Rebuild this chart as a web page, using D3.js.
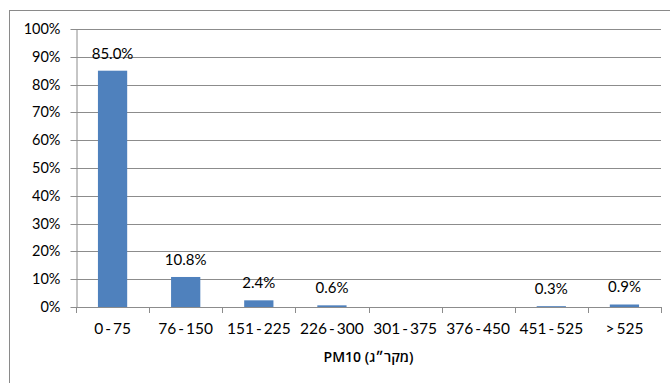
<!DOCTYPE html>
<html>
<head>
<meta charset="utf-8">
<script src="https://cdn.jsdelivr.net/npm/d3@7"></script>
<style>
  body { margin: 0; background: #fff; }
  svg { display: block; }
</style>
</head>
<body>
<div id="chart"></div>
<script>
  // PM10 concentration classes and share of measurements
  const categories = ['0 - 75', '76 - 150', '151 - 225', '226 - 300', '301 - 375', '376 - 450', '451 - 525', '> 525'];
  const values = [85.0, 10.8, 2.4, 0.6, null, null, 0.3, 0.9];
  const yTicks = [0, 10, 20, 30, 40, 50, 60, 70, 80, 90, 100];
  const axisTitle = 'PM10 (מקר״ג)';

  const width = 670, height = 383;
  const margin = {top: 29, right: 9, bottom: 76, left: 76};
  const barColor = '#4f81bd';
  const gridColor = '#8c8c8c';
  const font = 'Lato, "Open Sans", sans-serif';

  const svg = d3.select('#chart').append('svg')
      .attr('width', width)
      .attr('height', height);

  // outer chart frame (runs past the right and bottom edges)
  svg.append('rect')
      .attr('x', 9.5).attr('y', 10.5)
      .attr('width', width + 20).attr('height', height + 20)
      .attr('fill', 'none')
      .attr('stroke', '#8a8a8a');

  const x = d3.scaleBand()
      .domain(categories)
      .range([margin.left, width - margin.right])
      .paddingInner(0.6)
      .paddingOuter(0.3);

  const y = d3.scaleLinear()
      .domain([0, 100])
      .range([height - margin.bottom, margin.top]);

  // horizontal grid
  svg.append('g')
      .selectAll('line')
      .data(yTicks.filter(d => d > 0))
      .join('line')
        .attr('x1', margin.left)
        .attr('x2', width - margin.right)
        .attr('y1', d => Math.round(y(d)) + 0.5)
        .attr('y2', d => Math.round(y(d)) + 0.5)
        .attr('stroke', gridColor);

  // y axis
  const yAxis = svg.append('g')
      .attr('transform', `translate(${margin.left + 0.5},0)`)
      .call(d3.axisLeft(y).tickValues(yTicks).tickFormat(d => d + '%').tickSize(6).tickSizeOuter(0));
  yAxis.select('.domain').attr('stroke', gridColor);
  yAxis.selectAll('.tick line').attr('stroke', gridColor);
  yAxis.selectAll('.tick text')
      .attr('x', -16)
      .attr('font-family', font)
      .attr('font-size', 14.5)
      .attr('fill', '#000');
  yAxis.selectAll('.tick').attr('transform', d => `translate(0,${Math.round(y(d)) + 0.5})`);

  // bars
  const rows = categories.map((c, i) => ({c, v: values[i]})).filter(d => d.v !== null);
  svg.append('g')
      .selectAll('rect')
      .data(rows)
      .join('rect')
        .attr('x', d => x(d.c))
        .attr('width', x.bandwidth())
        .attr('y', d => y(d.v))
        .attr('height', d => y(0) - y(d.v))
        .attr('fill', barColor);

  // x axis with ticks at category boundaries
  const x0 = y(0);
  const xg = svg.append('g');
  xg.append('line')
      .attr('x1', margin.left).attr('x2', width - margin.right)
      .attr('y1', Math.round(x0) + 0.5).attr('y2', Math.round(x0) + 0.5)
      .attr('stroke', gridColor);
  const bounds = d3.range(categories.length + 1).map(i => margin.left + i * x.step());
  xg.selectAll('line.tk')
      .data(bounds)
      .join('line')
        .attr('class', 'tk')
        .attr('x1', d => Math.round(d) + 0.5).attr('x2', d => Math.round(d) + 0.5)
        .attr('y1', Math.round(x0)).attr('y2', Math.round(x0) + 6)
        .attr('stroke', gridColor);
  xg.selectAll('text')
      .data(categories)
      .join('text')
        .attr('x', d => x(d) + x.bandwidth() / 2)
        .attr('y', x0 + 27)
        .attr('text-anchor', 'middle')
        .attr('font-family', font)
        .attr('font-size', 15.5)
        .attr('word-spacing', -2)
        .attr('fill', '#000')
        .text(d => d);

  // data labels
  svg.append('g')
      .selectAll('text')
      .data(rows)
      .join('text')
        .attr('x', d => x(d.c) + x.bandwidth() / 2)
        .attr('y', d => y(d.v) - 12)
        .attr('text-anchor', 'middle')
        .attr('font-family', font)
        .attr('font-size', 15)
        .attr('fill', '#000')
        .text(d => d.v.toFixed(1) + '%');

  // axis title
  svg.append('text')
      .attr('x', (margin.left + width - margin.right) / 2)
      .attr('y', x0 + 55)
      .attr('text-anchor', 'middle')
      .attr('font-family', '"Open Sans", sans-serif')
      .attr('font-size', 14)
      .attr('font-weight', 600)
      .attr('fill', '#000')
      .text(axisTitle);
</script>
</body>
</html>
